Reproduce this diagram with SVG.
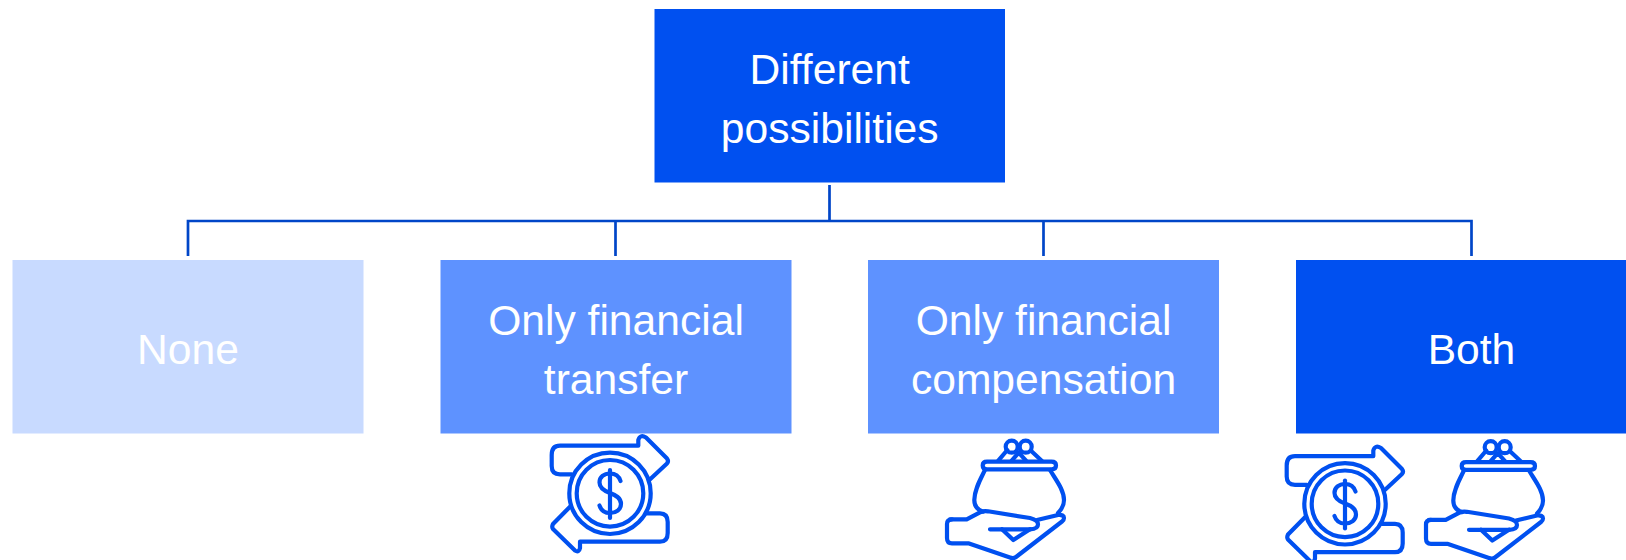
<svg xmlns="http://www.w3.org/2000/svg" width="1626" height="560" viewBox="0 0 1626 560">
<style>
.t{font-family:"Liberation Sans",Arial,sans-serif;font-size:42.6px;fill:#fff;text-anchor:middle}
.c{fill:none;stroke:#0046c8;stroke-width:2.7}
.i{fill:none;stroke:#0050f0;stroke-width:4.2;stroke-linecap:round;stroke-linejoin:round}
</style>
<defs>
<g id="transfer" class="i">
<path d="M41.7 49.3H30Q21.7 49.3 21.7 41V30Q21.7 20.700 30 20.700H108.300V15Q110 9 116 12.500L137 33.500Q139 36 137 38.500L119.300 55"/>
<path d="M40 81.700L23 99Q21.500 102 23 104L45 125.500Q49 128 50 123V116.700H130Q137.700 116.700 137.700 108V97Q137.700 88.300 130 88.300H116.700"/>
<circle cx="80" cy="68.300" r="40.700"/>
<circle cx="80" cy="68.300" r="33.300"/>
<path d="M80 45V93"/>
<path d="M90.500 56C89 51 85 48.500 80 48.500C74 48.500 69.500 52 69.500 57.500C69.500 63.500 74.500 66 80 68C85.500 70 91 72.500 91 79C91 84.500 86 88 80 88C75 88 71 85.500 69.500 80.500"/>
</g>
<g id="purse" class="i">
<path d="M57 31.700H121.500Q126 31.700 126 35.500Q126 39.300 121.500 39.300H57Q52.700 39.300 52.700 35.500Q52.700 31.700 57 31.700Z"/>
<circle cx="81.700" cy="16.700" r="6"/>
<circle cx="95.700" cy="16.700" r="6"/>
<path d="M68.300 30.700L77.300 20M81.700 30.700L88.700 22.700L96 30.700M101 20.700L111.700 30.700"/>
<path d="M55 40C50 50 44.300 60 44.300 70C44.300 76 48 80 53 81.700M120 40C126 50 134 60 134 70C134 76 131 80 128 83"/>
<path d="M20 89.300H36.700L50 82.300Q53 80.700 58 81.300L100 88Q108 90 108 94.500Q108 99 100 99.300H60"/>
<path d="M107 90L128 85Q134 84.500 134 88Q134 90 132 91.500L86 127Q83.300 129 80 127.500L38.300 113.300H22Q17 113.300 17 108V94Q17 89.300 22 89.300"/>
<path d="M72 99.300L83.300 110L100 99.300"/>
</g>
</defs>
<g id="connectors">
<path class="c" d="M829.500 185V221M188 256V221H1471.500V256M615.500 221V256M1043.500 221V256"/>
</g>
<g id="node-root"><rect x="654.500" y="9" width="350.500" height="173.500" fill="#0050f0"/><text class="t" x="829.700" y="84">Different</text><text class="t" x="829.700" y="142.500">possibilities</text></g>
<g id="node-none"><rect x="12.500" y="260" width="351" height="173.500" fill="#c8daff"/><text class="t" x="188" y="364">None</text></g>
<g id="node-transfer"><rect x="440.500" y="260" width="351" height="173.500" fill="#5e92ff"/><text class="t" x="616" y="335">Only financial</text><text class="t" x="616" y="394">transfer</text>
<use href="#transfer" x="530" y="425"/></g>
<g id="node-compensation"><rect x="868" y="260" width="351" height="173.500" fill="#5e92ff"/><text class="t" x="1043.500" y="335">Only financial</text><text class="t" x="1043.500" y="394">compensation</text>
<use href="#purse" x="930" y="430"/></g>
<g id="node-both"><rect x="1296" y="260" width="351" height="173.500" fill="#0050f0"/><text class="t" x="1471.500" y="364">Both</text>
<use href="#transfer" x="1265" y="435.500"/><use href="#purse" x="1409" y="430.500"/></g>
</svg>
